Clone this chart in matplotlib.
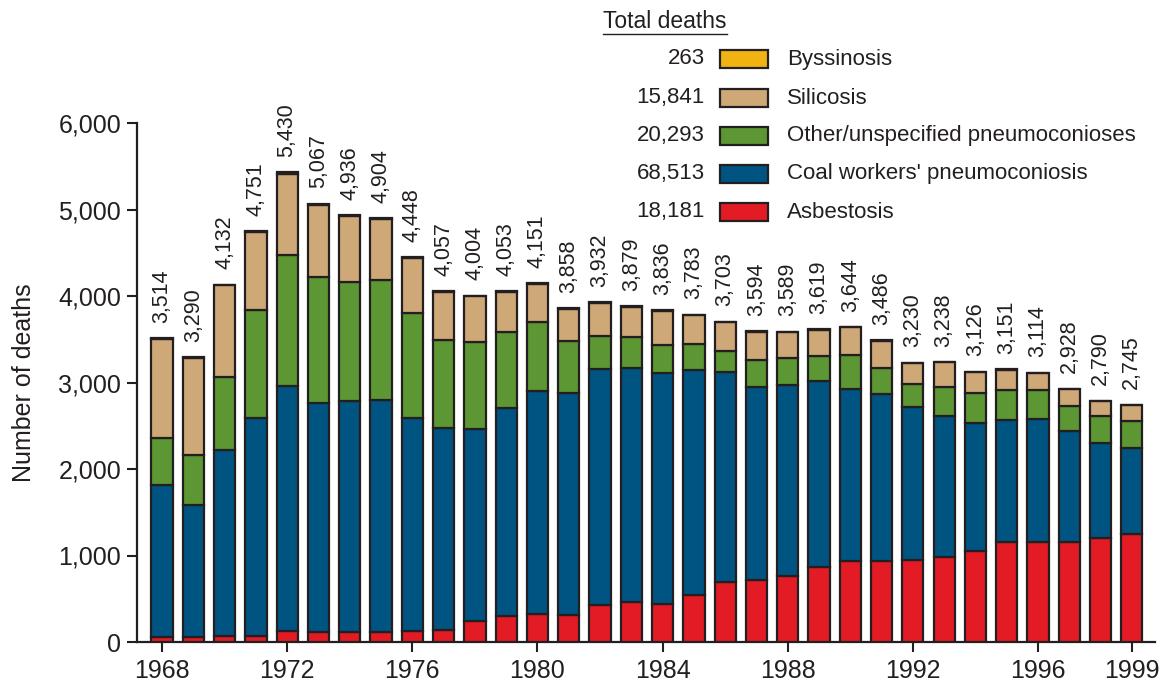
import matplotlib
matplotlib.use("Agg")
import matplotlib.pyplot as plt
from matplotlib.patches import Rectangle
from matplotlib.lines import Line2D
import numpy as np

plt.rcParams['font.family'] = ['Liberation Sans', 'DejaVu Sans']

years = list(range(1968, 2000))
totals = [3514, 3290, 4132, 4751, 5430, 5067, 4936, 4904, 4448, 4057,
          4004, 4053, 4151, 3858, 3932, 3879, 3836, 3783, 3703, 3594,
          3589, 3619, 3644, 3486, 3230, 3238, 3126, 3151, 3114, 2928,
          2790, 2745]
asbestosis = [61, 61, 73, 73, 126, 110, 110, 110, 127, 143,
              239, 306, 326, 308, 429, 462, 442, 538, 692, 711,
              758, 865, 934, 933, 948, 981, 1050, 1153, 1154, 1152,
              1201, 1252]
coal = [1755, 1521, 2151, 2514, 2830, 2648, 2681, 2685, 2461, 2336,
        2228, 2395, 2571, 2569, 2722, 2705, 2668, 2604, 2434, 2241,
        2215, 2148, 1988, 1936, 1768, 1634, 1486, 1419, 1427, 1291,
        1096, 988]
other = [548, 584, 841, 1250, 1520, 1463, 1373, 1387, 1214, 1015,
         1006, 888, 805, 604, 383, 354, 327, 303, 239, 305,
         316, 297, 398, 301, 263, 335, 347, 336, 328, 281,
         320, 314]
silicosis = [1135, 1112, 1057, 902, 940, 833, 761, 712, 637, 553,
             523, 455, 441, 367, 389, 350, 392, 330, 330, 331,
             294, 302, 318, 309, 245, 283, 237, 238, 200, 200,
             169, 188]
byssinosis = [15, 12, 10, 12, 14, 13, 11, 10, 9, 10,
              8, 9, 8, 10, 9, 8, 7, 8, 8, 7,
              6, 7, 6, 7, 6, 5, 6, 5, 5, 4,
              4, 3]

legend_names = ["Byssinosis", "Silicosis", "Other/unspecified pneumoconioses",
                "Coal workers' pneumoconiosis", "Asbestosis"]
legend_totals = ["263", "15,841", "20,293", "68,513", "18,181"]

col_red = "#e31b24"
col_blue = "#005482"
col_green = "#5c9733"
col_tan = "#cfa878"
col_yellow = "#f0b30f"
edge = "#231f20"

W, H = 1164, 683
fig = plt.figure(figsize=(W / 100, H / 100), dpi=100)
ax = fig.add_axes([137 / W, 1 - 642 / H, (1155 - 137) / W, (642 - 123) / H])

x = np.array(years)
series = [asbestosis, coal, other, silicosis, byssinosis]
colors = [col_red, col_blue, col_green, col_tan, col_yellow]
bottom = np.zeros(len(years))
for vals, c in zip(series, colors):
    v = np.array(vals, dtype=float)
    ax.bar(x, v, bottom=bottom, width=0.68, color=c, edgecolor=edge,
           linewidth=1.6, zorder=3)
    bottom += v

for xi, t in zip(years, totals):
    ax.annotate(f"{t:,}", xy=(xi, t), xytext=(0, 11), textcoords='offset points',
                rotation=90, ha='center', va='bottom', fontsize=15.5, color='#231f20')

ax.set_ylim(0, 6000)
ax.set_xlim(1967.2, 1999.74)
ax.set_yticks([0, 1000, 2000, 3000, 4000, 5000, 6000])
ax.set_yticklabels(["0", "1,000", "2,000", "3,000", "4,000", "5,000", "6,000"])
ax.set_xticks([1968, 1972, 1976, 1980, 1984, 1988, 1992, 1996, 1999])
ax.tick_params(axis='both', labelsize=18, length=7.5, width=1.5, color=edge,
               labelcolor='#231f20', direction='out')
ax.tick_params(axis='y', pad=4)
ax.tick_params(axis='x', pad=5)
for s in ['top', 'right']:
    ax.spines[s].set_visible(False)
for s in ['left', 'bottom']:
    ax.spines[s].set_linewidth(1.6)
    ax.spines[s].set_color(edge)
ax.set_ylabel("Number of deaths", fontsize=18, color='#231f20', labelpad=16)

# Legend (manual)
fig.text(603 / W, 1 - 22 / H, "Total deaths", fontsize=16.5, ha='left', va='center',
         color='#231f20')
fig.add_artist(Line2D([603 / W, 727 / W], [1 - 34 / H, 1 - 34 / H],
                      color='#231f20', linewidth=1.0, transform=fig.transFigure))
row_y = [59, 98, 136, 174, 212]
leg_colors = [col_yellow, col_tan, col_green, col_blue, col_red]
for ry, name, tot, c in zip(row_y, legend_names, legend_totals, leg_colors):
    fig.text(705 / W, 1 - ry / H, tot, fontsize=16, ha='right', va='center',
             color='#231f20')
    fig.add_artist(Rectangle((720 / W, 1 - (ry + 9) / H), 48 / W, 18 / H,
                             facecolor=c, edgecolor=edge, linewidth=1.6,
                             transform=fig.transFigure))
    fig.text(787 / W, 1 - ry / H, name, fontsize=16, ha='left', va='center',
             color='#231f20')

fig.savefig("out.png", dpi=100)
